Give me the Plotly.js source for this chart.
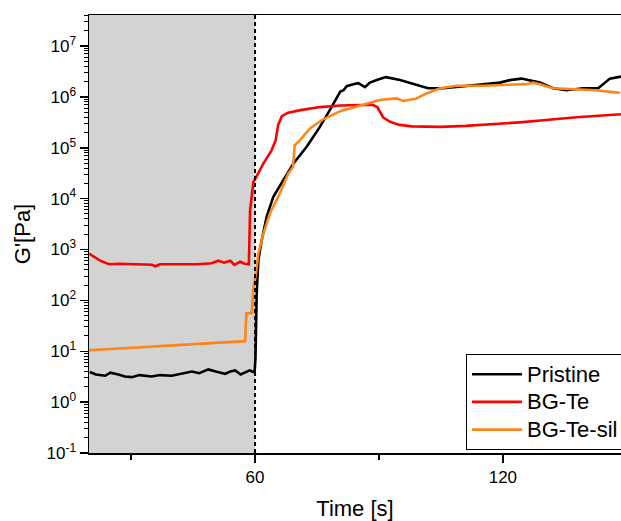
<!DOCTYPE html>
<html>
<head>
<meta charset="utf-8">
<script src="https://cdn.plot.ly/plotly-3.0.1.min.js"></script>
<style>html,body{margin:0;padding:0;background:#fff;}#chart{width:621px;height:521px;}</style>
</head>
<body>
<div id="chart"></div>
<script>
// Pristine
const pristineT = [20, 21.5, 23.7, 25, 26.9, 28.5, 30.2, 32, 35, 37, 39.8, 42, 44.7, 46.5, 48.7, 50.5, 52.7, 54, 55.2, 56.5, 57.6, 58.7, 59.6, 59.9, 60.1, 60.4, 60.8, 61.6, 62.8, 64.4, 66.8, 69.3, 72.5, 75.7, 78.1, 80.6, 81.4, 82.2, 83.8, 85, 86.6, 87.8, 89.8, 91.7, 95.1, 98.3, 101.9, 105.6, 111.2, 116.9, 119.3, 121.7, 124.5, 129, 132.2, 135.4, 139.4, 143.1, 145.9, 148.6];
const pristineG = [3.9, 3.5, 3.3, 3.8, 3.5, 3.2, 3.1, 3.4, 3.2, 3.4, 3.3, 3.6, 4.0, 3.7, 4.4, 4.0, 3.6, 4.0, 4.2, 3.5, 3.8, 4.2, 3.9, 4.0, 7.1, 135, 617, 1510, 4370, 10700, 22900, 49000, 105000, 257000, 550000, 1260000, 1350000, 1620000, 1780000, 1860000, 1550000, 1910000, 2190000, 2450000, 2140000, 1780000, 1480000, 1480000, 1620000, 1780000, 1910000, 2140000, 2290000, 1910000, 1480000, 1350000, 1480000, 1480000, 2290000, 2510000];

// BG-Te
const bgteT = [19.8, 21, 22.5, 24, 24.9, 27, 30, 33, 35, 35.8, 37, 40, 43, 46, 49.5, 51.1, 52.5, 54, 55, 56.4, 57.5, 58.5, 58.8, 59.6, 60, 62, 64, 65, 65.6, 66.5, 68, 71, 75.7, 80.6, 85.4, 88.6, 89.6, 90.4, 91, 92.7, 95, 98, 105, 111, 117.7, 124, 129.8, 137.8, 148.6];
const bgteG = [832, 708, 603, 537, 513, 525, 513, 513, 501, 468, 513, 513, 513, 513, 537, 603, 550, 603, 501, 575, 525, 513, 5890, 21400, 24000, 49000, 89100, 141000, 282000, 417000, 490000, 550000, 631000, 676000, 692000, 692000, 631000, 501000, 398000, 324000, 282000, 263000, 257000, 269000, 288000, 316000, 347000, 398000, 457000];

// BG-Te-sil
const bgtesilT = [19.8, 29.3, 43.1, 57.6, 57.9, 59.2, 59.6, 60.2, 60.8, 62, 63.6, 66, 68, 69.2, 69.6, 70.9, 73.3, 76.5, 80.6, 85.4, 90.2, 94.3, 95.9, 99.1, 101.5, 104.8, 108.8, 115.2, 119.3, 125.7, 127.3, 129, 132.2, 137, 142.6, 148.3];
const bgtesilG = [10.5, 11.7, 13.5, 15.8, 56, 56, 182, 331, 832, 2040, 5130, 12600, 30900, 41700, 112000, 141000, 240000, 363000, 525000, 676000, 871000, 933000, 832000, 933000, 1170000, 1480000, 1660000, 1660000, 1700000, 1780000, 1910000, 1780000, 1480000, 1410000, 1350000, 1200000];

const seriesNames = ["Pristine", "BG-Te", "BG-Te-sil"];
const xTickVals = [60, 120];
const xMinorVals = [30, 90];
const yDecades = [-1, 0, 1, 2, 3, 4, 5, 6, 7];
const stepTime = 60;
const xStart = 19.8;

const yTickVals = yDecades.map(d => Math.pow(10, d));
const yTickText = yDecades.map(d => "10<sup>" + d + "</sup>");
const yMinorVals = [];
yDecades.forEach(d => { for (let k = 2; k <= 9; k++) yMinorVals.push(k * Math.pow(10, d)); });

const fontFam = "Liberation Sans, Arial, sans-serif";
const legName = n => '<span style="font-size:22px">' + n + '</span>';

const traces = [
  {x: pristineT, y: pristineG, name: legName(seriesNames[0]), type: "scatter", mode: "lines", line: {color: "#000000", width: 2.6}},
  {x: bgteT, y: bgteG, name: legName(seriesNames[1]), type: "scatter", mode: "lines", line: {color: "#ff0000", width: 2.6}},
  {x: bgtesilT, y: bgtesilG, name: legName(seriesNames[2]), type: "scatter", mode: "lines", line: {color: "#ff8519", width: 2.6}}
];

const layout = {
  width: 621, height: 521,
  margin: {l: 89, r: 0, t: 15, b: 68, autoexpand: false},
  paper_bgcolor: "#ffffff", plot_bgcolor: "#ffffff",
  font: {family: fontFam, color: "#000000", size: 17},
  showlegend: true,
  legend: {x: 0.7086, y: 0.006, xanchor: "left", yanchor: "bottom", bgcolor: "#ffffff", bordercolor: "#000000", borderwidth: 1, font: {size: 19, family: fontFam, color: "#000"}, itemwidth: 50, tracegroupgap: 0},
  xaxis: {
    range: [xStart, 148.6], showgrid: false, zeroline: false,
    showline: true, linecolor: "#000", linewidth: 1.5, mirror: true,
    ticks: "outside", ticklen: 8, tickwidth: 1.5, tickcolor: "#000",
    tickmode: "array", tickvals: xTickVals, ticktext: xTickVals.map(String),
    tickfont: {size: 17},
    minor: {tickmode: "array", tickvals: xMinorVals, ticks: "outside", ticklen: 5, tickwidth: 1.5, tickcolor: "#000", showgrid: false},
    title: {text: "Time [s]", font: {size: 22}, standoff: 16}
  },
  yaxis: {
    type: "log", range: [-1, 7.61], showgrid: false, zeroline: false,
    showline: true, linecolor: "#000", linewidth: 1.5, mirror: false,
    ticks: "outside", ticklen: 8, tickwidth: 1.5, tickcolor: "#000",
    tickmode: "array", tickvals: yTickVals, ticktext: yTickText,
    tickfont: {size: 17},
    minor: {tickmode: "array", tickvals: yMinorVals, ticks: "outside", ticklen: 4, tickwidth: 1, tickcolor: "#000", showgrid: false},
    title: {text: "G'[Pa]", font: {size: 22}, standoff: 10}
  },
  shapes: [
    {type: "rect", xref: "x", yref: "paper", x0: xStart, x1: stepTime, y0: 0, y1: 1, fillcolor: "#d3d3d3", line: {width: 0}, layer: "below"},
    {type: "line", xref: "x", yref: "paper", x0: stepTime, x1: stepTime, y0: 0, y1: 1, line: {color: "#000", width: 2, dash: "4px,3px"}, layer: "above"}
  ]
};

Plotly.newPlot("chart", traces, layout, {displayModeBar: false, staticPlot: true});
</script>
</body>
</html>
